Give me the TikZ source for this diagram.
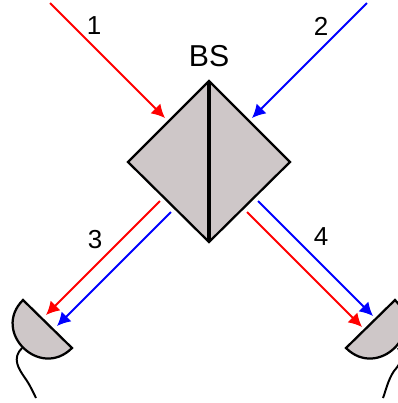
\documentclass[tikz,border=0pt]{standalone}
\usepackage{fontspec}
\setmainfont{Liberation Sans}
\usetikzlibrary{arrows.meta}
\definecolor{bsGray}{HTML}{CEC7C8}
\tikzset{
  redbeam/.style={red,line width=1.5pt},
  bluebeam/.style={blue,line width=1.5pt},
  beamtip/.style={-{Latex[length=9.5pt,width=10pt]}},
  optic/.style={draw=black,fill=bsGray,line width=1.6pt,line join=miter},
  wire/.style={black,line width=1.4pt},
  beamlabel/.style={font=\fontsize{18.5}{20}\selectfont,inner sep=0pt},
}
\begin{document}
\begin{tikzpicture}[x=.025cm,y=-.025cm]
  \useasboundingbox (0,0) rectangle (398,403);
  \clip (0,0) rectangle (398,403);
  % beam splitter
  \coordinate (top) at (209,81);
  \coordinate (bottom) at (209,242);
  \draw[optic] (top) -- (128,162) -- (bottom) -- (290,162) -- cycle;
  \draw[black,line width=2.2pt] (top) -- (bottom);
  \node[font=\fontsize{21.5}{24}\selectfont,inner sep=0pt] (bs) at (209,56) {BS};
  % detectors
  \draw[optic] (23,300) .. controls (-9,332) and (40,380) .. (72,348) -- cycle;
  \draw[optic] (395,300) .. controls (427,332) and (378,380) .. (346,348) -- cycle;
  \draw[wire] (22,348) .. controls (12,358) and (18,368) .. (25,378) .. controls (30,385) and (33,392) .. (36,398);
  \draw[wire] (398,348) .. controls (404,358) and (400,364) .. (394,371) .. controls (388,380) and (386,390) .. (383,398);
  % incoming beams
  \coordinate (in1) at (50,3);
  \coordinate (end1) at (165,118);
  \coordinate (in2) at (367,3);
  \coordinate (end2) at (252,118);
  \draw[redbeam,beamtip] (in1) -- (end1);
  \draw[bluebeam,beamtip] (in2) -- (end2);
  % outgoing beams
  \coordinate (r3a) at (160,201);
  \coordinate (r3b) at (46,315);
  \coordinate (b3a) at (171,212);
  \coordinate (b3b) at (57,326);
  \coordinate (b4a) at (258,201);
  \coordinate (b4b) at (373,316);
  \coordinate (r4a) at (247,212);
  \coordinate (r4b) at (362,327);
  \draw[redbeam,beamtip] (r3a) -- (r3b);
  \draw[bluebeam,beamtip] (b3a) -- (b3b);
  \draw[bluebeam,beamtip] (b4a) -- (b4b);
  \draw[redbeam,beamtip] (r4a) -- (r4b);
  % labels
  \node[beamlabel] (l1) at (94,26) {1};
  \node[beamlabel] (l2) at (321,26) {2};
  \node[beamlabel] (l3) at (95,240) {3};
  \node[beamlabel] (l4) at (321,237) {4};
\end{tikzpicture}
\end{document}
